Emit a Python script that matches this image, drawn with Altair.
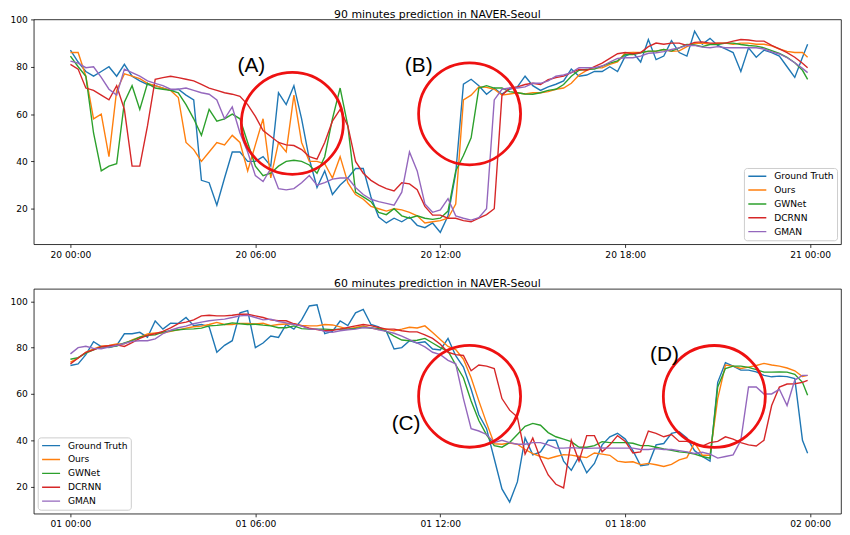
import altair as alt
import pandas as pd

SERIES = ["Ground Truth", "Ours", "GWNet", "DCRNN", "GMAN"]
COLORS = ["#1f77b4", "#ff7f0e", "#2ca02c", "#d62728", "#9467bd"]

# sample times in hours after midnight (15-minute steps, last sample 23:55)
HOURS = [i * 0.25 for i in range(96)] + [23 + 55 / 60]

TICK_HOURS = [0, 6, 12, 18, 24]
TOP_XLABELS = ["20 00:00", "20 06:00", "20 12:00", "20 18:00", "21 00:00"]
BOT_XLABELS = ["01 00:00", "01 06:00", "01 12:00", "01 18:00", "02 00:00"]
Y_TICKS = [20, 40, 60, 80, 100]

TOP_TITLE = "90 minutes prediction in NAVER-Seoul"
BOT_TITLE = "60 minutes prediction in NAVER-Seoul"

# ---------------- 90 minutes (top) ----------------
TOP_GT = [87, 82, 78, 76, 78, 80, 76, 81, 76, 74, 72.5, 72,
          71, 70, 70.5, 68, 66, 32, 31, 21.5, 33, 44, 44, 40,
          40, 42, 38, 69, 64, 72, 58, 41, 29, 36, 26, 30,
          33, 37, 37, 25, 16.5, 14, 16, 14.5, 16.5, 13, 12, 14,
          10, 17, 35, 72.6, 74.7, 72, 68.4, 71, 68.4, 70.5, 71.5, 76,
          72, 70, 71.5, 72.6, 74, 79, 76, 76.5, 78, 78, 80, 78,
          84.5, 86, 82, 91.5, 83, 84.5, 91, 86, 84.5, 95, 89.5, 92,
          89, 87.5, 86, 78, 88, 84, 87, 86, 84.5, 80, 75.5, 84,
          89.5]
TOP_OURS = [86, 86, 76, 58, 60, 42, 70, 77, 76, 75, 73, 72,
            71, 70, 67, 48, 45, 40, 44, 48, 47, 51, 48, 36,
            47, 58, 33, 48, 44, 68, 48, 40, 40, 39, 33, 42,
            31, 26, 24, 21, 20, 19, 20, 19.5, 18.5, 17, 14, 14.5,
            15, 16, 22, 66, 68, 71.5, 71.3, 70.5, 68, 68.5, 69, 68.5,
            69, 69, 69.5, 70.5, 71, 73, 76.5, 78.5, 79.5, 79.5, 81, 82,
            85.9, 86, 86, 86.5, 86.5, 87.3, 86.5, 86.7, 88.5, 89.8, 90, 89.5,
            90, 90, 89.5, 90, 90, 89.5, 89.5, 88.8, 87.5, 86.5, 86, 86,
            84]
TOP_GWNET = [84.5, 80, 76, 52, 36, 38, 39, 65, 72, 62, 73, 71,
             70.5, 70, 69, 64, 58, 51, 62, 57, 58, 60, 58, 48,
             38, 34, 35, 38, 40, 40.5, 40, 38.5, 35, 42, 58, 71,
             55, 27, 25, 23, 18.5, 17.5, 20, 17, 16, 17, 16, 15.5,
             16, 19, 36, 42.5, 50, 71, 72, 71, 71, 69.5, 69, 68.5,
             68.4, 69, 70, 70.5, 72.5, 76, 78.5, 78.9, 79, 80.3, 81.5, 82.5,
             85.2, 85.2, 85.9, 86.6, 86.6, 87.3, 86.6, 88, 89.4, 89.2, 88.5, 89.4,
             89.4, 90, 90, 89.4, 89, 88.7, 88, 86.8, 85.6, 84, 81.7, 78.5,
             74.7]
TOP_DCRNN = [81, 79, 71, 70, 68, 66, 72, 62, 38, 38, 55, 74.7,
             75.4, 76, 75.4, 74.7, 74, 72.5, 71, 70, 69, 68.4, 67.5, 64,
             59, 53, 50.5, 48, 47, 46.7, 45, 42, 41, 48, 57, 62,
             55, 40, 35, 32, 30, 28.5, 27.5, 31, 30.5, 28, 21, 17.3,
             17.3, 16, 16, 15, 14.5, 16, 17.5, 20, 68, 71, 71.5, 72.5,
             73, 72.5, 74.5, 75.4, 76, 77.5, 78.9, 78.5, 80, 81.5, 83.5, 85.5,
             86, 85.5, 86, 88.5, 90, 89.5, 90, 90, 89, 90.3, 90.5, 90,
             90, 90, 90.8, 91.5, 91.3, 90.8, 90.8, 89, 87.5, 86, 84, 81.5,
             79.6]
TOP_GMAN = [82.4, 81.5, 79.6, 80, 75.5, 70.5, 68, 79, 77.5, 76, 74, 73,
            72, 70.5, 70.5, 71, 70, 69, 68.4, 66, 58, 63, 52, 44,
            34, 31.5, 37, 28.5, 28, 28.5, 31, 34, 30, 31, 32.5, 33,
            33, 29, 26, 24, 23, 22.3, 21.5, 27, 44, 36, 22, 18.5,
            19.5, 24.3, 17, 16, 15.2, 16.2, 20, 66, 70.5, 71, 71, 71.5,
            73, 73, 74, 76, 76.5, 77.5, 79.6, 79.6, 79.6, 80.3, 82, 83.5,
            83.8, 83.8, 84.5, 85.7, 85.9, 86.4, 87.3, 88, 89, 89, 88.3, 88,
            88.5, 88, 88, 88, 88, 88, 87.5, 86.3, 85.4, 83.8, 81.7, 79.3,
            77.5]

# ---------------- 60 minutes (bottom) ----------------
BOT_GT = [72.3, 73, 77, 82.6, 80.5, 80, 81, 86, 86, 86.6, 84.5, 91.5,
          88, 90.6, 90.5, 93, 89.5, 90, 89, 78, 81, 83, 95, 96,
          80, 82, 85, 84.4, 90, 88, 92, 98, 98.5, 86, 87, 91.5,
          89.5, 95, 96.5, 90, 89, 87, 79.4, 80, 83, 82, 82.5, 79.4,
          79, 84, 76.5, 71.6, 62, 51, 45, 32, 19, 13.3, 22, 41,
          33.7, 35, 40, 40, 31, 27, 33, 26, 30, 38, 41.5, 43,
          40.5, 35.5, 29, 29.5, 38, 38.6, 43, 43.7, 41, 35.5, 33, 31,
          65, 73.5, 72, 70.3, 70.3, 69.5, 68, 67.4, 67.7, 67.5, 66.6, 40,
          34.4]
BOT_OURS = [73.7, 75.5, 78, 79.5, 80.6, 81, 81.6, 81.6, 83.3, 84.5, 85.9, 86.3,
            86.3, 87, 87.7, 88.4, 89, 89.3, 90, 90.9, 90, 90, 90.5, 90.5,
            90.2, 90.5, 89.5, 90, 90.2, 90.3, 89.6, 89.4, 89.4, 90, 89.8, 89,
            88, 88.7, 89.4, 88.5, 87.8, 88, 87.3, 88, 88.8, 88.5, 89.4, 86.5,
            83.5, 80.5, 79.2, 75, 67, 57, 47.5, 38.5, 38.3, 38.8, 38.3, 36,
            34.2, 33, 32, 33, 33.8, 33.6, 33, 32.5, 34.5, 34, 33.5, 31,
            30.5, 30.7, 29.5, 30, 29.4, 28.7, 29.6, 31.5, 32.5, 39, 33.5, 33.5,
            58, 72.5, 72, 71, 71.6, 72.3, 73.2, 72.5, 72, 71.2, 70, 67.5,
            68]
BOT_GWNET = [75, 75.7, 77.6, 79, 80.4, 80.3, 80.7, 82, 83, 84.5, 85.3, 85.5,
             86.7, 87.3, 87.7, 88, 88.1, 88.4, 89.4, 89.6, 90, 90.7, 90.3, 90,
             90.1, 89.7, 89.4, 88.6, 88.6, 89.4, 88.2, 88, 88, 88, 87.8, 88,
             88, 88.3, 88.8, 88.5, 88.2, 87, 85, 83.3, 83, 83.2, 84, 82,
             80, 78.5, 72.6, 67, 57, 48.5, 42.3, 37.7, 37, 39, 42.5, 46,
             47.3, 46.5, 43.3, 41.5, 40.5, 39.4, 37, 37, 37.7, 39.4, 39, 39,
             39, 38.7, 37.7, 37.7, 37, 36.3, 35.7, 35, 34.7, 34, 33, 32.3,
             63, 71, 72, 72, 71.5, 70.5, 69.4, 69.4, 69.5, 69.4, 68.5, 65,
             59.4]
BOT_DCRNN = [73, 75.5, 78, 79, 80.4, 80.8, 81.2, 80.5, 82.2, 84, 85.3, 86,
             87, 88.5, 90.4, 91, 92, 93.7, 94, 93.7, 93.7, 94, 94.4, 94.4,
             93.7, 93, 92, 91.6, 91.6, 90.3, 89.4, 88.4, 87.8, 87.3, 87.5, 88,
             88.7, 89.4, 90, 89.5, 88.7, 88, 88, 87.3, 86.8, 86.8, 85.5, 84,
             81.5, 78, 77, 76.6, 70, 72.5, 72, 71, 58, 53, 50, 34,
             41, 32, 25, 21, 19.4, 40, 31, 42, 42, 35, 38, 42,
             39.5, 34.5, 35, 44, 43, 41.5, 42.5, 39.5, 39.5, 38.5, 37.5, 39,
             39.5, 41.5, 40.5, 39, 38, 37.5, 40, 55, 63, 64.3, 64.4, 65,
             65.9]
BOT_GMAN = [77.3, 80, 80.6, 79.7, 79.5, 80.2, 80.9, 81.8, 82.7, 83, 83, 83.8,
            86, 87.5, 88.6, 89.3, 90.3, 91, 91.6, 92, 92.3, 93, 93.7, 94,
            93, 92, 92.3, 91.3, 90.7, 90, 89.4, 88, 88, 87, 86.6, 87.3,
            87.7, 88, 88.7, 88.6, 87.7, 87, 86.2, 85, 83.5, 82, 80.3, 78,
            77, 74.5, 73, 58, 45, 44, 42.5, 39, 40, 39, 38.3, 38.3,
            39, 39, 38, 36.6, 36.6, 36.8, 36.6, 36.5, 36.6, 36.7, 36.6, 36.6,
            36.6, 36.6, 36, 36, 36.4, 36, 36, 35.5, 35, 34.3, 34.8, 34,
            32.3, 33, 33.7, 40, 63, 63, 60, 60, 62, 55, 66, 68,
            68]

# annotations: label, label hour, label value, circle hour, circle value
TOP_ANN = [("(A)", 5.87, 80.25, 7.20, 56.1), ("(B)", 11.30, 80.25, 12.95, 60.1)]
BOT_ANN = [("(C)", 10.89, 46.9, 12.95, 59.0), ("(D)", 19.27, 76.9, 20.89, 58.9)]


def long_df(arrays):
    rows = []
    for name, vals in zip(SERIES, arrays):
        for h, v in zip(HOURS, vals):
            rows.append({"hour": h, "value": v, "series": name})
    return pd.DataFrame(rows)


def label_expr(labels):
    parts = [f"datum.value == {h} ? '{l}'" for h, l in zip(TICK_HOURS, labels)]
    return " : ".join(parts) + " : ''"


def panel(arrays, title, ydomain, xlabels, ann, legend_orient, title_offset):
    df = long_df(arrays)
    x = alt.X("hour:Q", scale=alt.Scale(domain=[-1.19, 25.0], nice=False, zero=False),
              axis=alt.Axis(values=TICK_HOURS, labelExpr=label_expr(xlabels), title=None,
                            grid=False, labelFlush=False))
    y = alt.Y("value:Q", scale=alt.Scale(domain=ydomain, nice=False, zero=False),
              axis=alt.Axis(values=Y_TICKS, title=None, grid=False, labelFlush=False))
    color = alt.Color("series:N", scale=alt.Scale(domain=SERIES, range=COLORS),
                      legend=alt.Legend(title=None, orient=legend_orient, offset=4,
                                        symbolType="stroke", symbolSize=330, symbolStrokeWidth=1.4,
                                        clipHeight=9.6,
                                        labelFont="DejaVu Sans", labelFontSize=9.2, labelColor="black",
                                        labelOffset=7, padding=3.5, rowPadding=4,
                                        strokeColor="#cccccc", fillColor="white", cornerRadius=3))
    layers = []
    for s in SERIES:
        layers.append(
            alt.Chart(df).transform_filter(alt.datum.series == s)
            .mark_line(strokeWidth=1.4)
            .encode(x=x, y=y, color=color)
        )
    ann_df = pd.DataFrame([{"label": a[0], "lh": a[1], "lv": a[2], "ch": a[3], "cv": a[4]} for a in ann])
    circles = alt.Chart(ann_df).mark_point(shape="circle", filled=False, size=10600, strokeWidth=2.8,
                                           color="#ee1111", opacity=1).encode(x="ch:Q", y="cv:Q")
    texts = alt.Chart(ann_df).mark_text(font="Liberation Sans", fontSize=21, color="black",
                                        baseline="middle", align="center").encode(
        x="lh:Q", y="lv:Q", text="label:N")
    return alt.layer(*layers, circles, texts).properties(
        width=815, height=227,
        title=alt.TitleParams(title, fontSize=11, font="DejaVu Sans", fontWeight="normal",
                              offset=title_offset, color="black"))


top = panel([TOP_GT, TOP_OURS, TOP_GWNET, TOP_DCRNN, TOP_GMAN], TOP_TITLE, [5, 100],
            TOP_XLABELS, TOP_ANN, "bottom-right", -5)
bot = panel([BOT_GT, BOT_OURS, BOT_GWNET, BOT_DCRNN, BOT_GMAN], BOT_TITLE, [8.3, 105.4],
            BOT_XLABELS, BOT_ANN, "bottom-left", 0)

chart = (
    alt.vconcat(top, bot, spacing=45, bounds="flush")
    .resolve_scale(color="independent", x="independent", y="independent")
    .resolve_legend(color="independent")
    .properties(padding={"left": 1, "top": -2, "right": 0, "bottom": 0})
    .configure_view(stroke="black", strokeWidth=0.8)
    .configure_axis(domain=False, grid=False, tickColor="black", tickWidth=0.8, tickSize=3.2,
                    labelPadding=3.2, labelFont="DejaVu Sans", labelFontSize=9.2, labelColor="black")
)

chart.save("out.html", embed_options={"renderer": "svg", "actions": False})
